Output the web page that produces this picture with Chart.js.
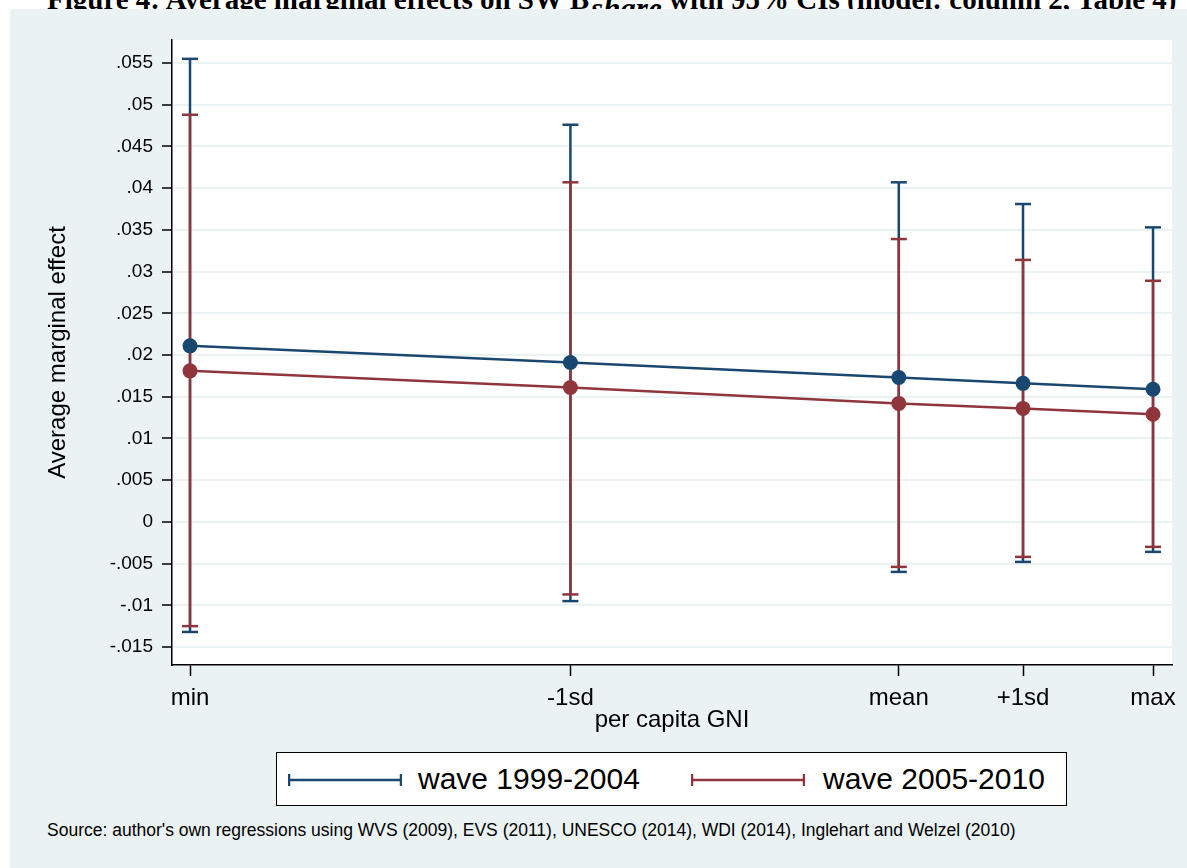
<!DOCTYPE html>
<html>
<head>
<meta charset="utf-8">
<script src="https://cdn.jsdelivr.net/npm/chart.js@4.4.1/dist/chart.umd.min.js"></script>
<style>
  body { margin: 0; width: 1187px; height: 868px; background: #fff; position: relative; overflow: hidden;
         font-family: "Liberation Sans", Arial, sans-serif; }
  #title { position: absolute; left: 47px; top: -15px; white-space: nowrap;
           font: bold 29px/29px "Liberation Serif", "Times New Roman", serif; }
  #title sub { font-style: italic; font-size: 31px; vertical-align: -10px; margin-left: 2px; }
  #panel { position: absolute; left: 10px; top: 9px; width: 1177px; height: 859px; background: #eaf2f3; }
  #wrap { position: absolute; left: 0; top: 0; width: 1177px; height: 731px; }
  #legend { position: absolute; left: 266px; top: 743px; width: 789px; height: 52px;
            border: 1.5px solid #000; background: #fff; }
  .sym { position: absolute; top: 21px; width: 114px; height: 12px; }
  .lab { position: absolute; top: 11px; font-size: 30px; line-height: 30px; color: #000; }
  #source { position: absolute; left: 37px; top: 813px; font-size: 17.5px; line-height: 17.5px; color: #000; }
</style>
</head>
<body>
<div id="title">Figure 4: Average marginal effects on SW B<sub>share</sub> with 95% CIs (model: column 2, Table 4)</div>
<div id="panel">
  <div id="wrap"><canvas id="chart"></canvas></div>
  <div id="legend">
    <svg class="sym" style="left:11px" viewBox="0 0 114 12"><g stroke="#1a476f" stroke-width="2.5"><line x1="1" y1="6" x2="113" y2="6"/><line x1="1" y1="0" x2="1" y2="12"/><line x1="113" y1="0" x2="113" y2="12"/></g></svg>
    <span class="lab" style="left:141px">wave 1999-2004</span>
    <svg class="sym" style="left:414px" viewBox="0 0 114 12"><g stroke="#90353b" stroke-width="2.5"><line x1="1" y1="6" x2="113" y2="6"/><line x1="1" y1="0" x2="1" y2="12"/><line x1="113" y1="0" x2="113" y2="12"/></g></svg>
    <span class="lab" style="left:546px">wave 2005-2010</span>
  </div>
  <div id="source">Source: author's own regressions using WVS (2009), EVS (2011), UNESCO (2014), WDI (2014), Inglehart and Welzel (2010)</div>
</div>

<script>
// categories on the x axis (positions along per capita GNI)
const xLabels = ["min", "-1sd", "mean", "+1sd", "max"];
const xPositions = [0, 3.95, 7.36, 8.65, 10];

// wave 1999-2004
const wave1Mean = [0.0211, 0.0191, 0.0173, 0.0166, 0.0159];
const wave1Lower = [-0.0132, -0.0095, -0.0060, -0.0048, -0.0036];
const wave1Upper = [0.0555, 0.0476, 0.0407, 0.0381, 0.0353];

// wave 2005-2010
const wave2Mean = [0.0181, 0.0161, 0.0142, 0.0136, 0.0129];
const wave2Lower = [-0.0125, -0.0087, -0.0054, -0.0042, -0.0030];
const wave2Upper = [0.0488, 0.0407, 0.0339, 0.0314, 0.0289];

// y ticks
const yTickValues = [-0.015, -0.01, -0.005, 0, 0.005, 0.01, 0.015, 0.02, 0.025, 0.03, 0.035, 0.04, 0.045, 0.05, 0.055];
const yTickLabels = ["-.015", "-.01", "-.005", "0", ".005", ".01", ".015", ".02", ".025", ".03", ".035", ".04", ".045", ".05", ".055"];

const blue = "#1a476f";
const red = "#90353b";
const font = "'Liberation Sans', Arial, sans-serif";

function meanData(means) {
  return xPositions.map(function(x, i) { return { x: x, y: means[i] }; });
}

// each CI is a separate segment; a null y breaks the line between them
function ciData(lower, upper) {
  const out = [];
  xPositions.forEach(function(x, i) {
    out.push({ x: x, y: lower[i] });
    out.push({ x: x, y: upper[i] });
    out.push({ x: x, y: null });
  });
  return out;
}

function ciDataset(label, lower, upper, color) {
  return {
    label: label,
    data: ciData(lower, upper),
    borderColor: color,
    borderWidth: 2.5,
    pointStyle: "line",
    pointRadius: 8,
    pointBorderColor: color,
    pointBorderWidth: 2.5,
    spanGaps: false,
    tension: 0
  };
}

function meanDataset(label, means, color) {
  return {
    label: label,
    data: meanData(means),
    borderColor: color,
    borderWidth: 2.5,
    pointRadius: 7.5,
    pointBackgroundColor: color,
    pointBorderWidth: 0,
    tension: 0
  };
}

const plotBackground = {
  id: "plotBackground",
  beforeDraw: function(chart) {
    const a = chart.chartArea;
    chart.ctx.save();
    chart.ctx.fillStyle = "#fff";
    chart.ctx.fillRect(a.left, a.top, a.right - a.left, a.bottom - a.top);
    chart.ctx.restore();
  }
};

new Chart(document.getElementById("chart"), {
  type: "line",
  data: {
    datasets: [
      meanDataset("wave 2005-2010", wave2Mean, red),
      meanDataset("wave 1999-2004", wave1Mean, blue),
      ciDataset("wave 2005-2010 CI", wave2Lower, wave2Upper, red),
      ciDataset("wave 1999-2004 CI", wave1Lower, wave1Upper, blue)
    ]
  },
  plugins: [plotBackground],
  options: {
    responsive: true,
    maintainAspectRatio: false,
    animation: false,
    layout: { padding: { left: 0, right: 15, top: 31, bottom: 0 } },
    plugins: {
      legend: { display: false },
      tooltip: { enabled: false }
    },
    scales: {
      x: {
        type: "linear",
        min: -0.187,
        max: 10.197,
        afterBuildTicks: function(scale) {
          scale.ticks = xPositions.map(function(v) { return { value: v }; });
        },
        afterFit: function(scale) { scale.height = 75; },
        ticks: {
          autoSkip: false,
          maxRotation: 0,
          padding: 8,
          color: "#000",
          font: { family: font, size: 24 },
          callback: function(value, index) { return xLabels[index]; }
        },
        grid: { drawOnChartArea: false, tickLength: 11, tickColor: "#000", tickWidth: 1.5 },
        border: { color: "#000", width: 1.5 },
        title: {
          display: true,
          text: "per capita GNI",
          color: "#000",
          padding: { top: 0, bottom: 5 },
          font: { family: font, size: 24 }
        }
      },
      y: {
        type: "linear",
        min: -0.01716,
        max: 0.05776,
        afterBuildTicks: function(scale) {
          scale.ticks = yTickValues.map(function(v) { return { value: v }; });
        },
        afterFit: function(scale) { scale.width = 162; },
        ticks: {
          padding: 9,
          color: "#000",
          font: { family: font, size: 19 },
          callback: function(value, index) { return yTickLabels[index]; }
        },
        grid: { color: "#eaf2f3", lineWidth: 2, tickLength: 10, tickColor: "#000", tickWidth: 1.5 },
        border: { color: "#000", width: 1.5 },
        title: {
          display: true,
          text: "Average marginal effect",
          color: "#000",
          padding: { top: 34, bottom: 0 },
          font: { family: font, size: 24 }
        }
      }
    }
  }
});
</script>
</body>
</html>
